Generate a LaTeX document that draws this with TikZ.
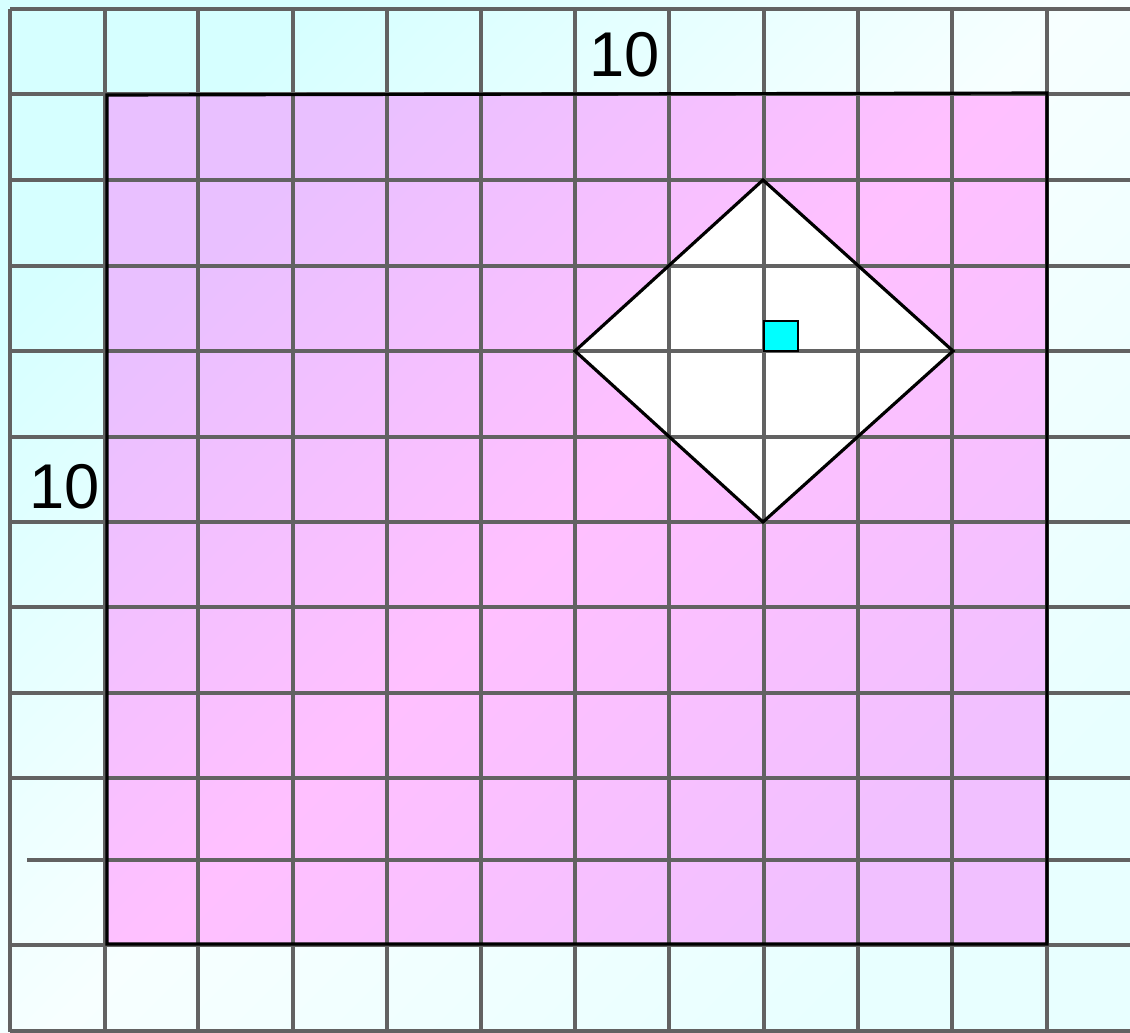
\documentclass[tikz,border=0pt]{standalone}
\usepackage{fontspec}
\setmainfont{Liberation Sans}
\definecolor{gridc}{RGB}{98,98,98}
\definecolor{bgUL}{RGB}{214,255,255}
\definecolor{bgMid}{RGB}{247,255,255}
\definecolor{bgLR}{RGB}{232,255,255}
\definecolor{pkUL}{RGB}{233,192,255}
\definecolor{pkMid}{RGB}{255,192,255}
\definecolor{pkLR}{RGB}{241,192,255}
\definecolor{cyanfill}{RGB}{0,255,255}
\tikzset{
  gridline/.style={draw=gridc, line width=2pt},
  outline/.style={draw=black, line width=1.8pt, line join=miter},
  label/.style={font=\fontsize{36}{40}\selectfont, text=black, inner sep=0pt}
}
\begin{document}
\begin{tikzpicture}[x=0.02cm,y=-0.02cm]
\useasboundingbox (0,0) rectangle (1130,1032);
% background
\shade[top color=bgUL, bottom color=bgLR, middle color=bgMid, shading angle=45] (0,0) rectangle (1130,1032);
% pink square
\shade[top color=pkUL, bottom color=pkLR, middle color=pkMid, shading angle=45] (107,95) rectangle (1047,944);
% diamond fill
\coordinate (dt) at (763,180);
\coordinate (dr) at (953,351);
\coordinate (db) at (763,522);
\coordinate (dl) at (575,351);
\fill[white] (dt) -- (dr) -- (db) -- (dl) -- cycle;
% grid
\foreach \x in {10,105,198,293,387,481,575,669,764,858,952,1047} {
  \draw[gridline] (\x,9) -- (\x,1032);
}
\foreach \y in {9,94,180,266,351,437,522,607,693,778,945,1031} {
  \draw[gridline] (10,\y) -- (1130,\y);
}
\draw[gridline] (27,860) -- (1130,860);
% outlines
\draw[outline] (dt) -- (dr) -- (db) -- (dl) -- cycle;
\draw[outline] (107,95) -- (1047,93) -- (1047,944) -- (107,944) -- cycle;
% small cyan square
\draw[outline, fill=cyanfill, line width=1.5pt] (764,321) rectangle (798,351);
% labels
\node[label] (top) at (625,55) {10};
\node[label] (left) at (65,487) {10};
\end{tikzpicture}
\end{document}
